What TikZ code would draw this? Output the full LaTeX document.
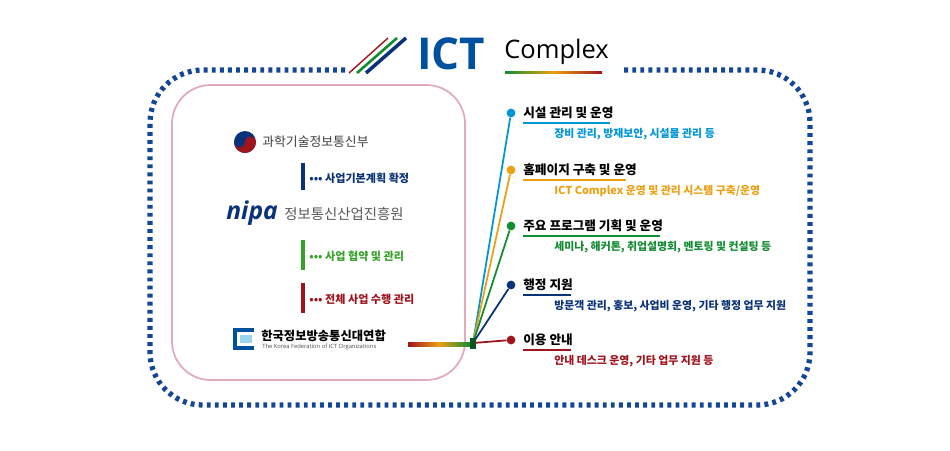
\documentclass[tikz,border=0pt]{standalone}
\usepackage{fontspec}
\setmainfont{Noto Sans CJK KR}
\newfontfamily\kr{Noto Sans CJK KR}
\newfontfamily\lat{Open Sans}
\usetikzlibrary{calc}
\definecolor{cblue}{RGB}{0,150,214}
\definecolor{corange}{RGB}{236,160,20}
\definecolor{cgreen}{RGB}{20,140,50}
\definecolor{cnavy}{RGB}{10,50,120}
\definecolor{cred}{RGB}{160,20,30}
\definecolor{bord}{RGB}{20,70,150}
\definecolor{ictblue}{RGB}{0,80,160}
\definecolor{pinkb}{RGB}{225,170,190}
\tikzset{
 ttl/.style={anchor=west,font=\kr\bfseries\fontsize{7.2}{9}\selectfont,inner sep=0},
 sub/.style={anchor=west,font=\kr\bfseries\fontsize{6.2}{7}\selectfont,inner sep=0},
 lft/.style={anchor=west,font=\kr\bfseries\fontsize{6.3}{8}\selectfont,inner sep=0},
 dotn/.style={circle,fill,inner sep=0,minimum size=5pt},
}
\begin{document}
\begin{tikzpicture}[x=0.02cm,y=-0.02cm]
\useasboundingbox[fill=white] (0,0) rectangle (950,450);
% dotted border
\draw[bord,line width=3pt,dash pattern=on 2.2pt off 2.4pt,rounded corners=30]
 (345,70) -- (150,70) -- (150,405) -- (810,405) -- (810,70) -- (620,70);
% pink box
\draw[pinkb,line width=1pt,rounded corners=22] (172,85) rectangle (465,380);
% title
\draw[cred,line width=0.8pt] (349,73) -- (388,38);
\draw[cgreen,line width=1.5pt] (357,73) -- (397,38);
\draw[cnavy,line width=2pt] (366,73) -- (406,38);
\node[anchor=west,inner sep=0,text=ictblue,font=\lat\bfseries\fontsize{25}{25}\selectfont] (ict) at (417,54) {ICT};
\node[anchor=west,inner sep=0,font=\lat\fontsize{14.5}{16}\selectfont] (cx) at (504,52) {Complex};
\shade[left color=cgreen,right color=cred,middle color=corange] (505,71) rectangle (602,73.5);
% left
\fill[cnavy] (245,142) circle (11);
\fill[cred] (245,142) ++(0:11) arc (0:180:11) -- cycle;
\fill[cnavy] (239.5,142) circle (5.5);
\fill[cred] (250.5,142) circle (5.5);
\node[anchor=west,inner sep=0,font=\kr\fontsize{7.3}{9}\selectfont,text=black!75] (m1) at (262,142) {과학기술정보통신부};
\draw[cnavy,line width=2.5pt] (303,163) -- (303,190);
\node[lft,text=cnavy] (s1) at (309,178) {••• 사업기본계획 확정};
\node[anchor=west,inner sep=0,text=cnavy,font=\lat\bfseries\itshape\fontsize{14}{14}\selectfont] (nipa) at (226,213) {nipa};
\node[anchor=west,inner sep=0,font=\kr\itshape\fontsize{8.2}{10}\selectfont,text=black!65] (m2) at (284,214) {정보통신산업진흥원};
\draw[cgreen!80!lime,line width=2.5pt] (303,240) -- (303,270);
\node[lft,text=cgreen!80!lime] (s2) at (309,256) {••• 사업 협약 및 관리};
\draw[cred,line width=2.5pt] (303,283) -- (303,313);
\node[lft,text=cred] (s3) at (309,299) {••• 전체 사업 수행 관리};
\fill[ictblue] (233,328) rectangle (254,350);
\fill[white] (237,332) rectangle (256,346);
\fill[cblue!40] (240,335) rectangle (252,343);
\node[anchor=west,inner sep=0,font=\kr\bfseries\fontsize{7}{9}\selectfont] (m3) at (261,336) {한국정보방송통신대연합};
\node[anchor=west,inner sep=0,font=\lat\fontsize{3.3}{4}\selectfont,text=black!70] (m3e) at (262,347) {The Korea Federation of ICT Organizations};
% hub
\shade[left color=cred,right color=cgreen,middle color=corange] (408,342.5) rectangle (470,346);
\coordinate (hub) at (473,343);
% right items
\foreach \y/\c/\t/\s/\w [count=\i] in {
 113/cblue/시설 관리 및 운영/{장비 관리, 방재보안, 시설물 관리 등}/87,
 170/corange/홈페이지 구축 및 운영/{ICT Complex 운영 및 관리 시스템 구축/운영}/103,
 226/cgreen/주요 프로그램 기획 및 운영/{세미나, 해커톤, 취업설명회, 멘토링 및 컨설팅 등}/137,
 285/cnavy/행정 지원/{방문객 관리, 홍보, 사업비 운영, 기타 행정 업무 지원}/48,
 340/cred/이용 안내/{안내 데스크 운영, 기타 업무 지원 등}/48}{
 \node[dotn,fill=\c] (d\i) at (511,\y) {};
 \draw[\c,line width=1pt] (hub) -- (d\i);
 \node[ttl] (t\i) at (523,\y) {\t};
 \draw[\c,line width=1.2pt] (523,\y+10) -- ++(\w,0);
 \node[sub,text=\c] (u\i) at (554,\y+21) {\s};
}
\fill[cgreen!60!black] (470,338) rectangle (476,349);
\end{tikzpicture}
\end{document}
